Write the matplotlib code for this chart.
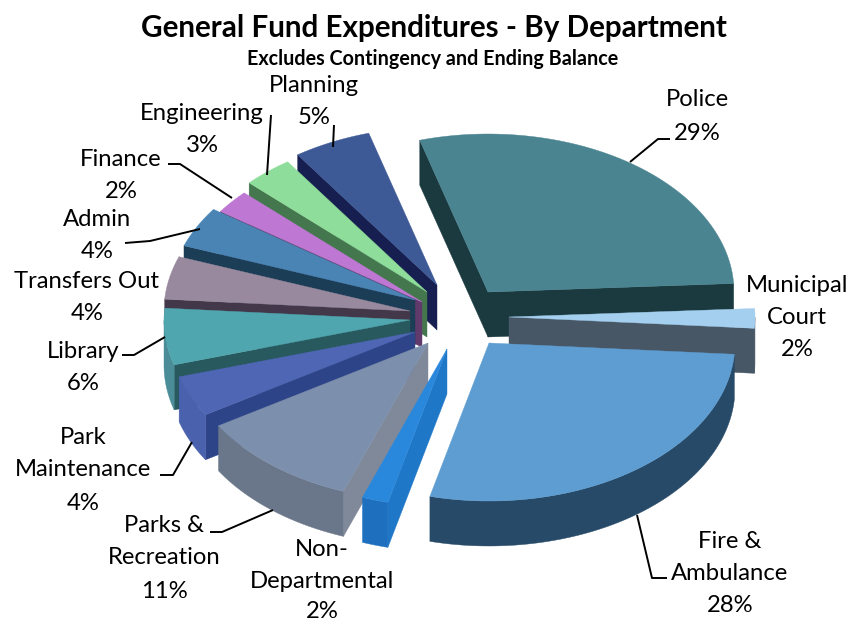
from __future__ import annotations

import matplotlib

matplotlib.use("Agg")
import matplotlib.pyplot as plt
import numpy as np
from matplotlib.patches import Polygon

plt.rcParams["font.family"] = ["Lato", "DejaVu Sans"]

DEPARTMENTS = [
    "Police", "Municipal Court", "Fire & Ambulance", "Non-Departmental",
    "Parks & Recreation", "Park Maintenance", "Library", "Transfers Out",
    "Admin", "Finance", "Engineering", "Planning",
]
SHARES = [29, 2, 28, 2, 11, 4, 6, 4, 4, 2, 3, 5]

# top face, cut wall, outer wall
TOP_COLORS = ["#4a8491", "#a5cfef", "#5e9dd1", "#2a88dc", "#7c8fac", "#4f66b5",
              "#4fa6ae", "#98899f", "#4a84b5", "#be78d4", "#8fdd9a", "#3d5a96"]
CUT_COLORS = ["#1a3a40", "#475766", "#2a4c68", "#1f77c7", "#80899a", "#2e4488",
              "#27595f", "#43384a", "#1b3d55", "#5f3a6a", "#44774e", "#161f4f"]
RIM_COLORS = ["#1a3a40", "#475766", "#264a68", "#1e6fbe", "#6a7689", "#4a61ae",
              "#4a8d98", "#7a6e80", "#3a6a92", "#9a60ac", "#70b07a", "#2e4577"]

# where each slice's point ended up after exploding (pixels)
APEX_X = [488, 509, 489, 447, 428, 415, 410, 410, 415, 422, 427, 437]
APEX_Y = [292, 317, 343, 349, 343, 332, 320, 311, 300, 302, 292, 285]
DRAW_ORDER = [0, 11, 10, 9, 8, 7, 6, 5, 4, 3, 1, 2]

START_ANGLE = -17.5
# the original's perspective squeezes some slice boundaries by a degree or so
EDGE_NUDGE = [1.4, 0, 0, -1, -2, -3.3, -2.6, -3.4, -2, -1.5, 0, 1.0, 1.4]
RX, RY, DEPTH = 246, 158, 45

LABELS = [
    (["Police", "29%"], 697, [99, 133]),
    (["Municipal", "Court", "2%"], 797, [285, 318, 350]),
    (["Fire &", "Ambulance", "28%"], 730, [541, 573, 606]),
    (["Non-", "Departmental", "2%"], 322, [550, 582, 612]),
    (["Parks &", "Recreation", "11%"], 164, [526, 558, 591]),
    (["Park", "Maintenance", "4%"], 83, [438, 470, 503]),
    (["Library", "6%"], 83, [351, 383]),
    (["Transfers Out", "4%"], 87, [282, 314]),
    (["Admin", "4%"], 97, [219, 251]),
    (["Finance", "2%"], 121, [159, 191]),
    (["Engineering", "3%"], 202, [113, 146]),
    (["Planning", "5%"], 314, [86, 118]),
]
LEADERS = [
    [(630, 162), (658, 139), (670, 139)],
    [(637, 515), (652, 578), (667, 578)],
    [(273, 510), (222, 532), (210, 532)],
    [(192, 442), (173, 475), (160, 475)],
    [(165, 337), (134, 355), (122, 355)],
    [(200, 229), (150, 241), (125, 243)],
    [(232, 198), (180, 164), (168, 164)],
    [(267, 175), (271, 115)],
    [(333, 147), (334, 125)],
]


def rim_points(apex, theta):
    return np.column_stack([apex[0] + RX * np.sin(theta), apex[1] - RY * np.cos(theta)])


def draw_slice(ax, apex, start, end, top, cut, rim):
    theta = np.radians(np.linspace(start, end, 80))
    arc = rim_points(apex, theta)
    middle = rim_points(apex, np.radians([(start + end) / 2]))[0] - apex
    drop = np.array([0, DEPTH])

    # radial faces, only those turned to the viewer
    for corner in (arc[0], arc[-1]):
        edge = corner - apex
        side_in = edge[0] * middle[1] - edge[1] * middle[0]
        side_drop = edge[0] * drop[1] - edge[1] * drop[0]
        if side_in * side_drop < 0:
            quad = [apex, corner, corner + drop, apex + drop]
            ax.add_patch(Polygon(quad, closed=True, fc=cut, ec=cut, lw=0.3, zorder=2))

    # outer wall, front half of the ellipse only
    front = arc[np.cos(theta) <= 0]
    if len(front) > 1:
        wall = np.vstack([front, (front + drop)[::-1]])
        ax.add_patch(Polygon(wall, closed=True, fc=rim, ec=rim, lw=0.3, zorder=2))

    face = np.vstack([[apex], arc])
    ax.add_patch(Polygon(face, closed=True, fc=top, ec=top, lw=0.3, zorder=2))


def main() -> None:
    fig = plt.figure(figsize=(8.54, 6.21), dpi=100)
    ax = fig.add_axes([0, 0, 1, 1])
    ax.set_xlim(0, 854)
    ax.set_ylim(621, 0)
    ax.axis("off")

    edges = START_ANGLE + np.concatenate([[0], np.cumsum(SHARES)]) / sum(SHARES) * 360
    edges = edges + np.array(EDGE_NUDGE)
    for i in DRAW_ORDER:
        apex = np.array([APEX_X[i], APEX_Y[i]], dtype=float)
        draw_slice(ax, apex, edges[i], edges[i + 1], TOP_COLORS[i], CUT_COLORS[i], RIM_COLORS[i])

    for points in LEADERS:
        xs, ys = zip(*points)
        ax.plot(xs, ys, color="black", lw=1.4, zorder=3, solid_capstyle="butt")

    for lines, x, ys in LABELS:
        for line, y in zip(lines, ys):
            ax.text(x, y, line, ha="center", va="center", fontsize=17.2, color="black", zorder=4)

    ax.text(434, 28, "General Fund Expenditures - By Department", ha="center", va="center",
            fontsize=21.3, fontweight="bold")
    ax.text(433, 59, "Excludes Contingency and Ending Balance", ha="center", va="center",
            fontsize=14.2, fontweight="bold")

    fig.savefig("out.png", dpi=100)
    plt.close(fig)


if __name__ == "__main__":
    main()
